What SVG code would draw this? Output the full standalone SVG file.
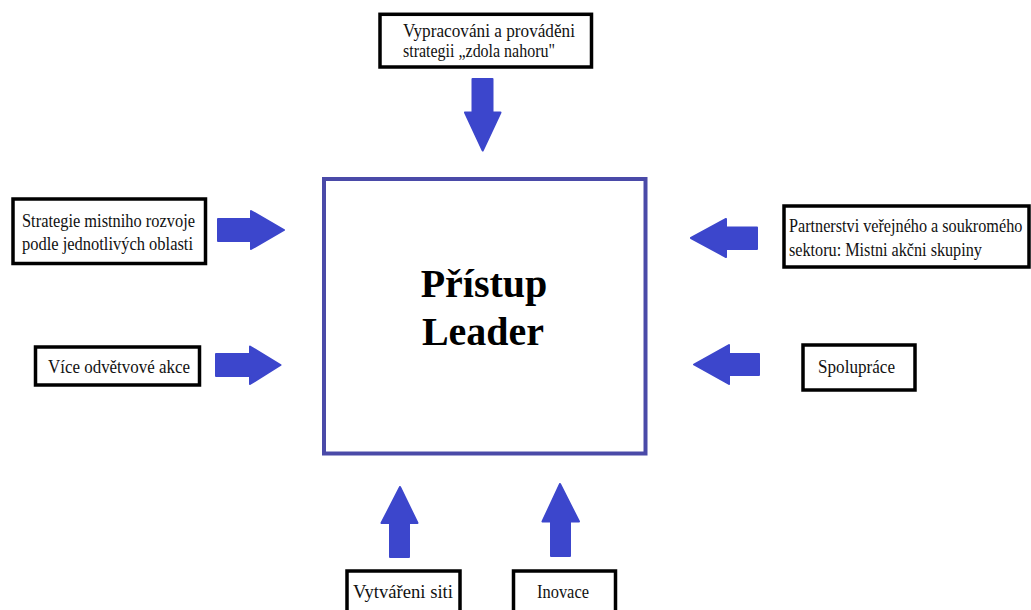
<svg xmlns="http://www.w3.org/2000/svg" width="1031" height="610" viewBox="0 0 1031 610">
<style>
.box{fill:#fff;stroke:#000;stroke-width:3.5}
.t{font-family:"Liberation Serif","Times New Roman",serif;font-size:19px;fill:#111}
.arrow{fill:#3c46cc;stroke:#3c46cc;stroke-width:2;stroke-linejoin:round}
.main{fill:#fff;stroke:#4a4aa8;stroke-width:4}
.big{font-family:"Liberation Serif","Times New Roman",serif;font-size:40px;font-weight:bold;fill:#000;text-anchor:middle}
</style>
<rect width="1031" height="610" fill="#fff"/>
<g id="center">
<rect class="main" x="324" y="179" width="321.5" height="274.5"/>
<text class="big" x="484" y="297">Přístup</text>
<text class="big" x="483" y="345">Leader</text>
</g>
<g id="top">
<rect class="box" x="380" y="14.3" width="211.5" height="52.7"/>
<text class="t" x="403" y="36.5" textLength="172" lengthAdjust="spacingAndGlyphs">Vypracováni a prováděni</text>
<text class="t" x="403" y="57" textLength="152" lengthAdjust="spacingAndGlyphs">strategii „zdola nahoru"</text>
</g>
<g id="left1">
<rect class="box" x="13" y="199" width="192.5" height="64.5"/>
<text class="t" x="22" y="227" textLength="173" lengthAdjust="spacingAndGlyphs">Strategie mistniho rozvoje</text>
<text class="t" x="22" y="250" textLength="171" lengthAdjust="spacingAndGlyphs">podle jednotlivých oblasti</text>
</g>
<g id="left2">
<rect class="box" x="35.5" y="347" width="164" height="38"/>
<text class="t" x="48" y="373" textLength="142" lengthAdjust="spacingAndGlyphs">Více odvětvové akce</text>
</g>
<g id="right1">
<rect class="box" x="784" y="206" width="245" height="61"/>
<text class="t" transform="translate(789,232) scale(1,1.16)" style="font-size:16.2px">Partnerstvi veřejného a soukromého</text>
<text class="t" transform="translate(789,256) scale(1,1.16)" style="font-size:16.2px">sektoru: Mistni akčni skupiny</text>
</g>
<g id="right2">
<rect class="box" x="803" y="345" width="112" height="45"/>
<text class="t" x="818" y="372.5" textLength="77" lengthAdjust="spacingAndGlyphs">Spolupráce</text>
</g>
<g id="bottom1">
<rect class="box" x="347" y="571" width="113" height="45"/>
<text class="t" x="353" y="598" textLength="100" lengthAdjust="spacingAndGlyphs">Vytvářeni siti</text>
</g>
<g id="bottom2">
<rect class="box" x="513.5" y="571" width="102" height="45"/>
<text class="t" x="537" y="598" textLength="52" lengthAdjust="spacingAndGlyphs">Inovace</text>
</g>
<g id="connectors">
<polygon class="arrow" points="472.5,79 492.5,79 492.5,112.5 500.5,112.5 482.7,150.5 465,112.5 472.5,112.5"/>
<polygon class="arrow" points="218,219 251,219 251,211 284,230 251,249 251,241 218,241"/>
<polygon class="arrow" points="216,354 250,354 250,346.5 280.5,365 250,384 250,376 216,376"/>
<polygon class="arrow" points="757,227.5 726,227.5 726,219 691,238 726,257 726,249 757,249"/>
<polygon class="arrow" points="759,354 729,354 729,345 694,364.5 729,384 729,375 759,375"/>
<polygon class="arrow" points="390,557 409,557 409,523 417.5,523 400,487 381.5,523 390,523"/>
<polygon class="arrow" points="551,556 570,556 570,521.5 579,521.5 560,484 542.5,521.5 551,521.5"/>
</g>
</svg>
